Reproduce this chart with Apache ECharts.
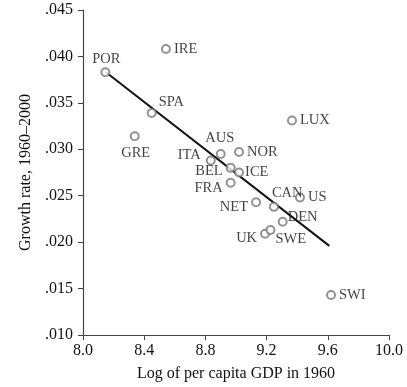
<!DOCTYPE html>
<html>
<head>
<meta charset="utf-8">
<script src="https://cdn.jsdelivr.net/npm/echarts@6/dist/echarts.min.js"></script>
<style>html,body{margin:0;padding:0;background:#fff}#c{width:407px;height:387px}</style>
</head>
<body>
<div id="c"></div>
<script>
const countries = ['POR','IRE','SPA','GRE','LUX','NOR','AUS','ITA','BEL','ICE','FRA','US','NET','CAN','DEN','UK','SWE','SWI'];
const logGdp1960 = [8.146, 8.542, 8.449, 8.338, 9.366, 9.020, 8.900, 8.835, 8.965, 9.020, 8.965, 9.418, 9.131, 9.248, 9.305, 9.190, 9.225, 9.621];
const growth = [0.0383, 0.0408, 0.0339, 0.0314, 0.0331, 0.0297, 0.0295, 0.0288, 0.0280, 0.0275, 0.0264, 0.0248, 0.0243, 0.0238, 0.0222, 0.0209, 0.0213, 0.0143];
const fitX = [8.15, 9.61];
const fitY = [0.0383, 0.0196];
const xTicks = [8.0, 8.4, 8.8, 9.2, 9.6, 10.0];
const yTicks = [0.010, 0.015, 0.020, 0.025, 0.030, 0.035, 0.040, 0.045];

// label placement (style)
const labelStyle = {
  POR: {position: 'top', offset: [1, 2]},
  IRE: {position: 'right'},
  SPA: {position: 'right', offset: [-1, -11]},
  GRE: {position: 'bottom', offset: [1, 1]},
  LUX: {position: 'right'},
  NOR: {position: 'right'},
  AUS: {position: 'top', offset: [-1, 0]},
  ITA: {position: 'left', offset: [-2, -5]},
  BEL: {position: 'left', offset: [0, 3]},
  ICE: {position: 'right', offset: [-2, 0]},
  FRA: {position: 'left', offset: [0, 5]},
  US: {position: 'right'},
  NET: {position: 'left', offset: [0, 5]},
  CAN: {position: 'right', offset: [-10, -14]},
  DEN: {position: 'right', offset: [-3, -5]},
  UK: {position: 'left', offset: [0, 4]},
  SWE: {position: 'right', offset: [-3, 9]},
  SWI: {position: 'right'}
};

const font = 'Liberation Serif, Times New Roman, serif';
const fmtY = v => v.toFixed(3).replace(/^0/, '');

const scatterData = countries.map((c, i) => ({
  value: [logGdp1960[i], growth[i]],
  name: c,
  label: Object.assign({show: true, formatter: c, distance: 3}, labelStyle[c])
}));

const chart = echarts.init(document.getElementById('c'));
chart.setOption({
  animation: false,
  grid: {left: 83, right: 18, top: 10, bottom: 52},
  xAxis: {
    type: 'value', min: 8.0, max: 10.0, interval: 0.4,
    name: 'Log of per capita GDP in 1960', nameLocation: 'middle', nameGap: 31,
    nameTextStyle: {fontFamily: font, fontSize: 16, color: '#111'},
    axisLine: {show: true, lineStyle: {color: '#444', width: 1.2}},
    axisTick: {show: true, length: 5, lineStyle: {color: '#444'}},
    axisLabel: {fontFamily: font, fontSize: 16, color: '#111', margin: 8,
      formatter: v => v.toFixed(1)},
    splitLine: {show: false}
  },
  yAxis: {
    type: 'value', min: 0.010, max: 0.045, interval: 0.005,
    name: 'Growth rate, 1960–2000', nameLocation: 'middle', nameGap: 48,
    nameTextStyle: {fontFamily: font, fontSize: 16, color: '#111'},
    axisLine: {show: true, lineStyle: {color: '#444', width: 1.2}},
    axisTick: {show: true, length: 5, lineStyle: {color: '#444'}},
    axisLabel: {fontFamily: font, fontSize: 16, color: '#111', margin: 10, formatter: fmtY},
    splitLine: {show: false}
  },
  series: [
    {
      type: 'line',
      data: fitX.map((x, i) => [x, fitY[i]]),
      showSymbol: false, symbol: 'none',
      lineStyle: {color: '#111', width: 2},
      z: 1
    },
    {
      type: 'scatter',
      data: scatterData,
      symbol: 'emptyCircle', symbolSize: 8,
      itemStyle: {color: '#777', borderWidth: 1},
      label: {fontFamily: font, fontSize: 14.5, color: '#111'},
      z: 2
    }
  ]
});
</script>
</body>
</html>
